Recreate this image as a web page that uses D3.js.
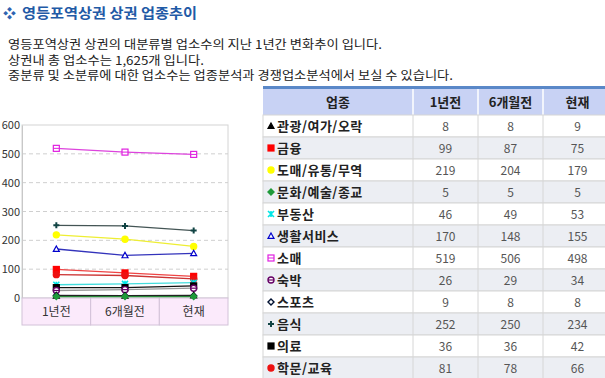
<!DOCTYPE html>
<html>
<head>
<meta charset="utf-8">
<script src="https://cdn.jsdelivr.net/npm/d3@7"></script>
<style>
  body { margin: 0; background: #fff; overflow: hidden; }
  svg text { font-family: "Noto Sans CJK KR", "Noto Sans", sans-serif; }
</style>
</head>
<body>
<svg id="page" width="605" height="378"></svg>
<script>
// 기간 / 업종 / 값
var periods = ["1년전", "6개월전", "현재"];
var categories = ["관광/여가/오락", "금융", "도매/유통/무역", "문화/예술/종교", "부동산", "생활서비스",
  "소매", "숙박", "스포츠", "음식", "의료", "학문/교육"];
var valYear = [8, 99, 219, 5, 46, 170, 519, 26, 9, 252, 36, 81];
var valHalf = [8, 87, 204, 5, 49, 148, 506, 29, 8, 250, 36, 78];
var valNow = [9, 75, 179, 5, 53, 155, 498, 34, 8, 234, 42, 66];
var yTicks = [0, 100, 200, 300, 400, 500, 600];

var colors = ["#000000", "#ff0000", "#ffff00", "#1f9a3a", "#00e5e5", "#0000cc",
  "#e020e0", "#660066", "#001030", "#114444", "#000000", "#ee1111"];
var lineColors = ["#222222", "#ee4444", "#eeee33", "#2a8a3a", "#44dddd", "#3333bb",
  "#dd44dd", "#999999", "#333344", "#445555", "#111111", "#cc3333"];
var markers = ["triangle", "square", "circle", "diamond", "cross", "triangleOpen",
  "squareOpen", "circleOpen", "diamondOpen", "plus", "square", "circle"];

var svg = d3.select("#page");

//! title + intro
svg.append("text").attr("x", 3).attr("y", 18)
  .attr("font-size", "13px").attr("fill", "#2f63b0").text("❖");
svg.append("text").attr("x", 22).attr("y", 18)
  .attr("font-size", "14px").attr("font-weight", "bold").attr("fill", "#1f5aa6")
  .attr("textLength", 175).attr("lengthAdjust", "spacingAndGlyphs")
  .text("영등포역상권 상권 업종추이");

var intro = ["영등포역상권 상권의 대분류별 업소수의 지난 1년간 변화추이 입니다.",
  "상권내 총 업소수는 1,625개 입니다.",
  "중분류 및 소분류에 대한 업소수는 업종분석과 경쟁업소분석에서 보실 수 있습니다."];
svg.selectAll(".intro").data(intro).enter().append("text")
  .attr("x", 8).attr("y", (d, i) => 49 + i * 15.5)
  .attr("font-size", "12px").attr("fill", "#222")
  .attr("textLength", (d, i) => [374, 196, 445][i])
  .attr("lengthAdjust", "spacingAndGlyphs")
  .text(d => d);

function marker(g, type, color, s) {
  var h = s / 2;
  if (type == "triangle" || type == "triangleOpen") {
    g.append("path").attr("d", `M0,${-h}L${h},${h * 0.8}L${-h},${h * 0.8}Z`)
      .attr("fill", type == "triangle" ? color : "#fff")
      .attr("stroke", color).attr("stroke-width", 1.2);
  } else if (type == "square" || type == "squareOpen") {
    g.append("rect").attr("x", -h).attr("y", -h).attr("width", s).attr("height", s)
      .attr("fill", type == "square" ? color : "#fff")
      .attr("stroke", color).attr("stroke-width", 1.2);
    if (type == "squareOpen") g.append("line").attr("x1", -h).attr("x2", h)
      .attr("stroke", color).attr("stroke-width", 1);
  } else if (type == "circle" || type == "circleOpen") {
    g.append("circle").attr("r", h)
      .attr("fill", type == "circle" ? color : "#fff")
      .attr("stroke", color).attr("stroke-width", 1.4);
    if (type == "circleOpen") g.append("line").attr("x1", -h).attr("x2", h)
      .attr("stroke", color).attr("stroke-width", 1.2);
  } else if (type == "diamond" || type == "diamondOpen") {
    g.append("path").attr("d", `M0,${-h}L${h},0L0,${h}L${-h},0Z`)
      .attr("fill", type == "diamond" ? color : "#fff")
      .attr("stroke", color).attr("stroke-width", 1.4);
  } else if (type == "cross") {
    g.append("path").attr("d", `M${-h},${-h}L${h},${h}M${-h},${h}L${h},${-h}M0,${-h}L0,${h}`)
      .attr("stroke", color).attr("stroke-width", 1.6);
  } else if (type == "plus") {
    g.append("path").attr("d", `M${-h},0L${h},0M0,${-h}L0,${h}`)
      .attr("stroke", color).attr("stroke-width", 2);
  }
}

//! line chart
var plot = { left: 22, right: 228, top: 125, bottom: 298, band: 325 };

var xScale = d3.scaleBand()
  .domain(periods)
  .range([plot.left, plot.right]);

var yScale = d3.scaleLinear()
  .domain([0, 600])
  .range([plot.bottom, plot.top]);

var chart = svg.append("g");

chart.append("rect").attr("x", plot.left).attr("y", plot.top)
  .attr("width", plot.right - plot.left).attr("height", plot.bottom - plot.top)
  .attr("fill", "#fff").attr("stroke", "#d4d4d4");

chart.selectAll(".grid").data(yTicks.slice(1, -1)).enter().append("line")
  .attr("x1", plot.left).attr("x2", plot.right)
  .attr("y1", d => yScale(d)).attr("y2", d => yScale(d))
  .attr("stroke", "#cfcfcf").attr("stroke-dasharray", "4,3");

var yAxis = d3.axisLeft(yScale).tickValues(yTicks).tickSize(0).tickPadding(2);
chart.append("g").attr("transform", "translate(" + plot.left + ",0)")
  .call(yAxis)
  .call(g => g.select(".domain").attr("stroke", "#c8c8c8"))
  .call(g => g.selectAll("text").attr("font-size", "11px").attr("fill", "#333")
    .attr("font-family", "'Liberation Sans', Arial, sans-serif"));

// category band
chart.selectAll(".band").data(periods).enter().append("rect")
  .attr("x", d => xScale(d)).attr("y", plot.bottom)
  .attr("width", xScale.bandwidth()).attr("height", plot.band - plot.bottom)
  .attr("fill", "#fbeafb").attr("stroke", "#d2c2d8");
chart.selectAll(".bandText").data(periods).enter().append("text")
  .attr("x", d => xScale(d) + xScale.bandwidth() / 2).attr("y", 316)
  .attr("text-anchor", "middle").attr("font-size", "12px").attr("fill", "#333")
  .text(d => d);

var series = categories.map((c, i) => ({
  name: c, i: i,
  values: [valYear[i], valHalf[i], valNow[i]]
}));

var line = d3.line()
  .x((d, k) => xScale(periods[k]) + xScale.bandwidth() / 2)
  .y(d => yScale(d));

var drawOrder = [6, 9, 2, 5, 1, 11, 4, 10, 7, 8, 0, 3];
drawOrder.forEach(i => {
  var s = series[i];
  chart.append("path").datum(s.values)
    .attr("d", line).attr("fill", "none")
    .attr("stroke", lineColors[i]).attr("stroke-width", 1.3);
  s.values.forEach((v, k) => {
    var g = chart.append("g").attr("transform",
      "translate(" + (xScale(periods[k]) + xScale.bandwidth() / 2) + "," + yScale(v) + ")");
    marker(g, markers[i], colors[i], 6);
  });
});

//! table
var colX = [263, 413, 478, 543, 612];
var headY = 89, headH = 26, rowH = 22;
var tbl = svg.append("g");

tbl.append("rect").attr("x", colX[0]).attr("y", 86).attr("width", colX[4] - colX[0]).attr("height", 3)
  .attr("fill", "#5a88c8");
tbl.append("rect").attr("x", colX[0]).attr("y", headY).attr("width", colX[4] - colX[0]).attr("height", headH)
  .attr("fill", "#c8d2f4");
var heads = ["업종"].concat(periods);
tbl.selectAll(".head").data(heads).enter().append("text")
  .attr("x", (d, i) => (colX[i] + colX[i + 1]) / 2).attr("y", headY + 17.5)
  .attr("text-anchor", "middle").attr("font-size", "13px").attr("font-weight", "bold")
  .attr("fill", "#222").text(d => d);
tbl.selectAll(".headSep").data(colX.slice(1, 4)).enter().append("line")
  .attr("x1", d => d).attr("x2", d => d).attr("y1", headY).attr("y2", headY + headH)
  .attr("stroke", "#fff").attr("stroke-width", 1.5);

var rowTop = headY + headH;
var rows = tbl.selectAll(".row").data(series).enter().append("g")
  .attr("transform", (d, i) => "translate(0," + (rowTop + i * rowH) + ")");
rows.append("rect").attr("x", colX[0]).attr("width", colX[4] - colX[0]).attr("height", rowH)
  .attr("fill", (d, i) => i % 2 ? "#eceef3" : "#fff")
  .attr("stroke", "#d6d6d6").attr("stroke-width", 1);
rows.each(function (d) {
  var r = d3.select(this);
  marker(r.append("g").attr("transform", "translate(271," + (rowH / 2) + ")"), markers[d.i], colors[d.i], 6);
  r.append("text").attr("x", 277).attr("y", rowH / 2 + 5)
    .attr("font-size", "13px").attr("font-weight", "bold").attr("fill", "#222")
    .attr("letter-spacing", "0.5px")
    .text(d.name);
  d.values.forEach((v, k) => {
    r.append("text").attr("x", (colX[k + 1] + colX[k + 2]) / 2).attr("y", rowH / 2 + 4.5)
      .attr("text-anchor", "middle").attr("font-size", "12px").attr("fill", "#555")
      .text(v);
  });
});
tbl.selectAll(".colSep").data(colX.slice(1, 4)).enter().append("line")
  .attr("x1", d => d).attr("x2", d => d).attr("y1", rowTop).attr("y2", rowTop + rowH * 12)
  .attr("stroke", "#d6d6d6");
</script>
</body>
</html>
